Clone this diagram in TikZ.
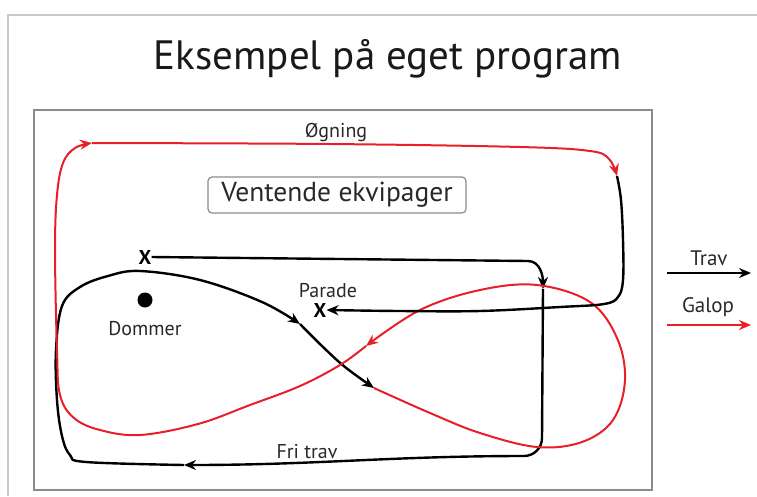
\documentclass[tikz,border=0pt]{standalone}
\usepackage{fontspec}
\setmainfont{PT Sans}
\usetikzlibrary{arrows.meta}
\definecolor{galop}{RGB}{232,30,40}
\definecolor{framegray}{RGB}{200,200,200}
\definecolor{boxgray}{RGB}{140,140,140}
\definecolor{txt}{RGB}{40,40,40}
\tikzset{
  trav/.style={draw=black, line width=2.4pt, line join=round, -{Stealth[length=12pt,width=10pt]}},
  galopline/.style={draw=galop, line width=2pt, line join=round, -{Stealth[length=12pt,width=10pt]}},
  lbl/.style={font=\fontsize{20}{22}\selectfont, text=txt, inner sep=0pt, anchor=base},
  xmark/.style={font=\fontsize{20}{22}\selectfont\bfseries, text=black, inner sep=0pt},
}
\begin{document}
\begin{tikzpicture}[x=1pt,y=-1pt]
\useasboundingbox (0,0) rectangle (757,496);
% frames
\draw[framegray, line width=2pt] (8,496) -- (8,15) -- (757,15);
\draw[boxgray, line width=2pt] (34,110) rectangle (652,490);
% title
\node[font=\fontsize{41}{44}\selectfont, text=black!90, inner sep=0pt, anchor=base] (title) at (388,69) {Eksempel på eget program};
% waiting box
\node[draw=boxgray, line width=1.2pt, rounded corners=4pt, minimum width=258pt, minimum height=36pt,
      font=\fontsize{27.5}{30}\selectfont, text=txt, inner sep=0pt] (vent) at (337,195) {Ventende ekvipager};
% labels
\node[lbl] (ogning) at (336,137) {Øgning};
\node[lbl] (parade) at (328,297) {Parade};
\node[lbl] (dommerlbl) at (145,335) {Dommer};
\node[lbl] (fritrav) at (307,458) {Fri trav};
\node[xmark] (x1) at (145,257) {X};
\node[xmark] (x2) at (320,310) {X};
\fill[black] (145,300) circle (7.5pt) coordinate (dommer);
% named points
\coordinate (a1) at (543,289);
\coordinate (a2) at (184,465);
\coordinate (a3) at (300,324);
\coordinate (a4) at (374,388);
\coordinate (r1) at (366,346);
\coordinate (r2) at (92,143);
\coordinate (r3) at (617,176);
% trav: start X to first arrow
\draw[trav] (x1.east) -- (528,261) to[out=0,in=90] (a1);
% down and Fri trav
\draw[trav] (a1) -- (542,438) to[out=-90,in=0] (524,456) to[out=180,in=0] (a2);
% loop around to diagonal
\draw[trav] plot[smooth, tension=0.6] coordinates {(a2) (86,462) (70,455) (62,436) (57,400) (56,350) (62,306) (80,287) (108,276) (140,271) (200,280) (262,302) (a3)};
\draw[trav] plot[smooth, tension=0.6] coordinates {(a3) (322,346) (345,367) (a4)};
% galop right loop
\draw[galopline] plot[smooth, tension=0.6] coordinates {(a4) (430,413) (480,433) (537,447) (582,442) (613,420) (625,380) (617,338) (590,302) (537,285) (480,290) (420,310) (r1)};
% galop lower-left loop and left side
\draw[galopline] plot[smooth, tension=0.6] coordinates {(r1) (340,365) (300,386) (250,405) (198,424) (140,435) (100,430) (74,418) (60,395) (57,350) (55,250) (57,195) (63,163) (75,148) (r2)};
% Øgning top
\draw[galopline] plot[smooth, tension=0.6] coordinates {(r2) (330,144) (520,147) (590,151) (609,159) (r3)};
% trav to parade
\draw[trav] plot[smooth, tension=0.6] coordinates {(r3) (621,200) (623,240) (623,280) (618,297) (604,304) (560,307) (480,311) (400,311) (x2.east)};
% legend
\node[lbl, font=\fontsize{21}{23}\selectfont] (travlbl) at (709,265) {Trav};
\node[lbl, font=\fontsize{21}{23}\selectfont] (galoplbl) at (708,312) {Galop};
\coordinate (lt1) at (667,273);
\coordinate (lt2) at (751,273);
\coordinate (lg1) at (667,325);
\coordinate (lg2) at (751,325);
\draw[trav] (lt1) -- (lt2);
\draw[galopline] (lg1) -- (lg2);
\end{tikzpicture}
\end{document}
